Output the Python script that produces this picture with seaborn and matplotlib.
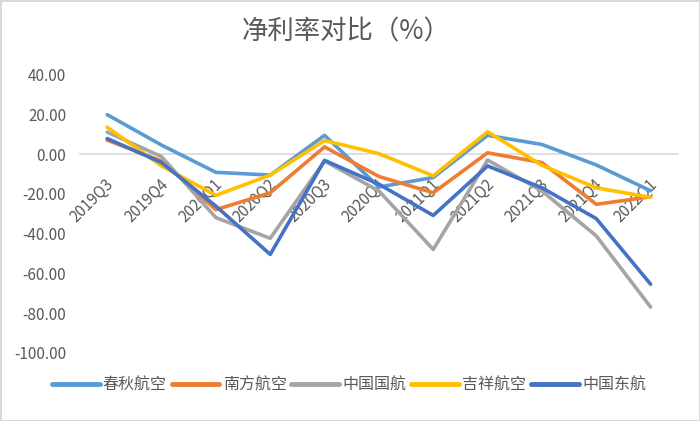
import pandas as pd
import matplotlib.pyplot as plt
import seaborn as sns
from matplotlib.ticker import FormatStrFormatter
from matplotlib.transforms import ScaledTranslation

# Quarters and net margin (%) per airline
quarters = ['2019Q3', '2019Q4', '2020Q1', '2020Q2', '2020Q3', '2020Q4',
            '2021Q1', '2021Q2', '2021Q3', '2021Q4', '2022Q1']
chunqiu = [19.8, 4.5, -9.2, -10.6, 9.4, -16.6, -11.8, 9.4, 4.8, -5.5, -18.5]
nanfang = [7.0, -3.5, -28.0, -19.5, 3.6, -11.3, -19.5, 0.6, -4.3, -25.3, -21.5]
guohang = [11.0, -1.3, -32.0, -42.4, -3.5, -18.6, -48.0, -3.0, -18.6, -41.2, -77.0]
jixiang = [13.5, -6.0, -20.8, -10.6, 6.8, 0.2, -11.0, 11.2, -5.7, -17.0, -21.8]
donghang = [7.8, -4.3, -26.2, -50.5, -3.2, -15.2, -30.9, -6.0, -17.0, -32.5, -65.5]

names = ['春秋航空', '南方航空', '中国国航', '吉祥航空', '中国东航']
colors = ['#5B9BD5', '#ED7D31', '#A5A5A5', '#FFC000', '#4472C4']

series = [chunqiu, nanfang, guohang, jixiang, donghang]
rows = []
for name, vals in zip(names, series):
    for i, v in enumerate(vals):
        rows.append({'idx': i, 'value': v, 'airline': name})
df = pd.DataFrame(rows)

sns.set_theme(style='white')
plt.rcParams['font.family'] = ['Noto Sans CJK SC', 'DejaVu Sans']
plt.rcParams['axes.unicode_minus'] = False

fig = plt.figure(figsize=(7, 4.21), dpi=100)
fig.patch.set_edgecolor('#d9d9d9')
fig.patch.set_linewidth(2)
ax = fig.add_axes([0.1143, 0.162, 0.854, 0.661])

sns.lineplot(data=df, x='idx', y='value', hue='airline', hue_order=names,
             palette=colors, linewidth=2.6, ax=ax, zorder=3)

# x axis sits on the zero line (do this before styling tick labels)
for s in ['top', 'right', 'left']:
    ax.spines[s].set_visible(False)
ax.spines['bottom'].set_position(('data', 0))
ax.spines['bottom'].set_color('#d9d9d9')
ax.spines['bottom'].set_linewidth(1.2)
ax.spines['bottom'].set_zorder(0)

ax.set_xlim(-0.5, 10.5)
ax.set_ylim(-100, 40)
ax.set_yticks(range(-100, 41, 20))
ax.yaxis.set_major_formatter(FormatStrFormatter('%.2f'))
ax.set_xticks(range(len(quarters)))
ax.set_xticklabels(quarters)
ax.tick_params(axis='x', length=0, pad=20, labelsize=11, labelcolor='#595959')
ax.tick_params(axis='y', length=0, pad=10, labelsize=11, labelcolor='#595959')
shift = ScaledTranslation(4 / 100, 0, fig.dpi_scale_trans)
for lab in ax.get_xticklabels():
    lab.set_rotation(45)
    lab.set_ha('right')
    lab.set_va('center')
    lab.set_rotation_mode('anchor')
    lab.set_transform(lab.get_transform() + shift)
ax.set_xlabel('')
ax.set_ylabel('')

fig.suptitle('净利率对比（%）', x=0.495, y=0.955, fontsize=19, color='#595959')

ax.legend(loc='center', bbox_to_anchor=(0.45, -0.115), ncol=5, frameon=False,
          fontsize=11.5, handlelength=3.0, handletextpad=0.2, columnspacing=0.3,
          labelcolor='#595959')
for line in ax.get_legend().get_lines():
    line.set_linewidth(3.5)

fig.savefig('out.png', dpi=100, edgecolor=fig.get_edgecolor())
